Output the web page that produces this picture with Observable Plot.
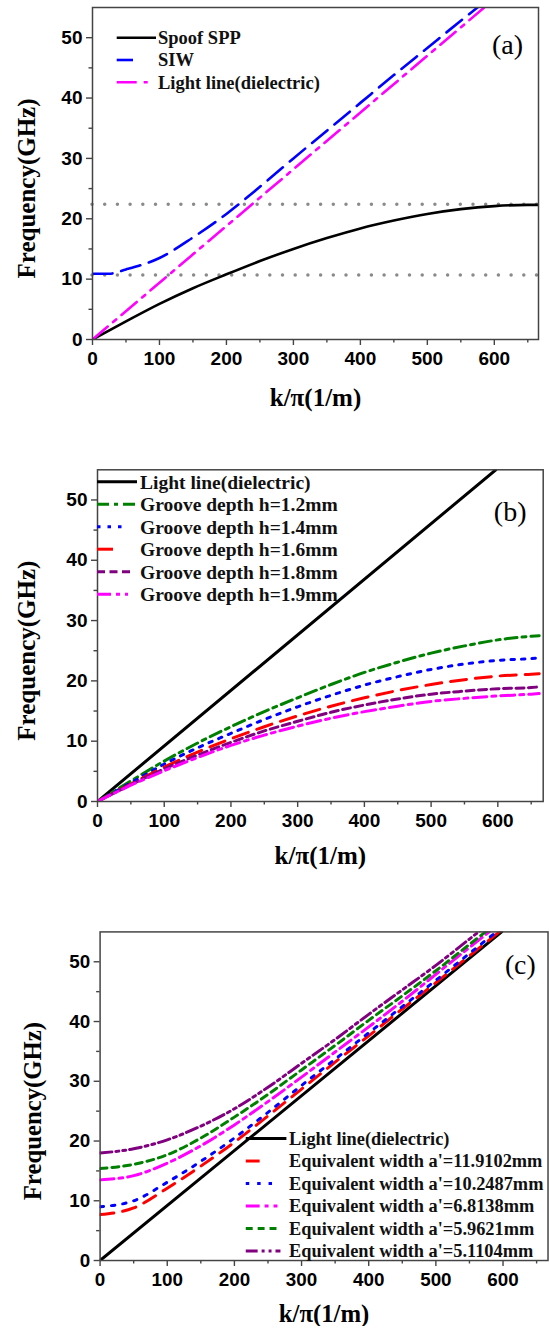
<!DOCTYPE html>
<html><head><meta charset="utf-8">
<script src="https://cdn.jsdelivr.net/npm/d3@7"></script>
<script src="https://cdn.jsdelivr.net/npm/@observablehq/plot@0.6"></script>
<style>
html,body{margin:0;padding:0;background:#fff;overflow:hidden;width:550px;}
#wrap svg{display:block;}
</style></head><body><div id="wrap"></div>
<script>
// ---------- shared axis ticks ----------
const xTicks = [0, 100, 200, 300, 400, 500, 600];
const xMinorTicks = [50, 150, 250, 350, 450, 550, 650];
const yTicks = [0, 10, 20, 30, 40, 50];
const yMinorTicks = [5, 15, 25, 35, 45];
const xTitle = "k/π(1/m)";
const yTitle = "Frequency(GHz)";

// ---------- panel (a) ----------
const aK = [0, 50, 100, 150, 200, 250, 300, 350, 400, 450, 500, 550, 600, 650, 667];
const aSpoofSPP = [0, 3.0, 5.9, 8.5, 10.8, 13.0, 15.0, 16.8, 18.4, 19.7, 20.8, 21.6, 22.1, 22.3, 22.3];
const aSiwK = [0, 25, 50, 100, 150, 200, 250, 300, 350, 400, 450, 500, 550, 585];
const aSiw = [10.9, 10.9, 11.6, 13.5, 16.9, 20.8, 25.3, 30.0, 34.6, 39.2, 43.8, 48.3, 52.8, 55.9];
const aLightK = [0, 585];
const aLight = [0, 55];
const aBandEdges = [22.4, 10.7];
const aLabels = ["Spoof SPP", "SIW", "Light line(dielectric)"];

// ---------- panel (b) ----------
const bK = [0, 50, 100, 150, 200, 250, 300, 350, 400, 450, 500, 550, 600, 650, 662];
const bLightK = [0, 597];
const bLight = [0, 55];
const bH12 = [0, 3.4, 6.7, 9.7, 12.4, 14.9, 17.2, 19.4, 21.4, 23.1, 24.6, 25.8, 26.8, 27.4, 27.5];
const bH14 = [0, 3.1, 6.2, 8.9, 11.3, 13.6, 15.7, 17.6, 19.3, 20.7, 21.9, 22.8, 23.4, 23.7, 23.8];
const bH16 = [0, 2.9, 5.7, 8.2, 10.4, 12.4, 14.2, 15.8, 17.2, 18.4, 19.4, 20.2, 20.8, 21.1, 21.2];
const bH18 = [0, 2.8, 5.4, 7.7, 9.8, 11.7, 13.3, 14.8, 16.0, 17.0, 17.8, 18.3, 18.7, 18.9, 19.0];
const bH19 = [0, 2.7, 5.1, 7.3, 9.3, 11.0, 12.5, 13.8, 14.9, 15.8, 16.6, 17.1, 17.5, 17.8, 17.9];
const bLabels = ["Light line(dielectric)", "Groove depth h=1.2mm", "Groove depth h=1.4mm",
  "Groove depth h=1.6mm", "Groove depth h=1.8mm", "Groove depth h=1.9mm"];

// ---------- panel (c) ----------
const cK = [0, 50, 100, 150, 200, 250, 300, 350, 400, 450, 500, 550, 600];
const cLightK = [0, 598];
const cLight = [0, 55];
const cW119102 = [7.7, 8.8, 12.1, 15.8, 19.8, 24.2, 28.7, 33.2, 37.6, 42.1, 46.5, 51.0, 55.5];
const cW102487 = [9.0, 10.0, 13.1, 16.6, 20.5, 24.8, 29.3, 33.7, 38.1, 42.5, 46.9, 51.4, 55.9];
const cW68138 = [13.5, 14.2, 16.3, 19.2, 22.7, 26.6, 30.7, 34.9, 39.1, 43.4, 47.9, 52.4, 56.8];
const cW59621 = [15.4, 16.1, 17.7, 20.5, 24.0, 27.8, 31.9, 36.0, 40.2, 44.3, 48.5, 52.9, 57.3];
const cW51104 = [18.0, 18.7, 20.2, 22.5, 25.4, 29.0, 33.0, 37.0, 41.2, 45.3, 49.4, 53.8, 58.2];
const cLabels = ["Light line(dielectric)", "Equivalent width a'=11.9102mm", "Equivalent width a'=10.2487mm",
  "Equivalent width a'=6.8138mm", "Equivalent width a'=5.9621mm", "Equivalent width a'=5.1104mm"];

const rows = (k, f) => k.map((x, i) => ({k: x, f: f[i]}));

const SANS = "'Liberation Sans', Arial, sans-serif";
const SERIF = "'Liberation Serif', 'Times New Roman', serif";

function panel(cfg) {
  const marks = [
    ...(cfg.pre || []),
    ...cfg.series.map(s => Plot.line(rows(s.k, s.f), {
      x: "k", y: "f", stroke: s.stroke, strokeWidth: s.width,
      strokeDasharray: s.dash, curve: "monotone-x", clip: true
    })),
    Plot.frame({stroke: "#444", strokeWidth: 1.5}),
    Plot.axisX(xTicks, {tickSize: 6, tickPadding: 6, strokeWidth: 1.4, stroke: "#444", fill: "#000", label: null, tickFormat: d => String(d)}),
    Plot.axisX(xMinorTicks, {tickSize: 3.5, strokeWidth: 1.4, stroke: "#444", label: null, tickFormat: () => ""}),
    Plot.axisY(yTicks, {tickSize: 6, tickPadding: 4, strokeWidth: 1.4, stroke: "#444", fill: "#000", label: null, tickFormat: d => String(d)}),
    Plot.axisY(yMinorTicks, {tickSize: 3.5, strokeWidth: 1.4, stroke: "#444", label: null, tickFormat: () => ""}),
    Plot.text([yTitle], {text: d => d, frameAnchor: "left", dx: cfg.yTitleX - cfg.ml, dy: 15, rotate: -90,
      textAnchor: "middle", lineAnchor: "middle", fontSize: 25, fontWeight: "bold", fontFamily: SERIF, fill: "#000"}),
    Plot.text([xTitle], {text: d => d, frameAnchor: "bottom", dy: cfg.xTitleDy,
      textAnchor: "middle", lineAnchor: "middle", fontSize: 25, fontWeight: "bold", fontFamily: SERIF, fill: "#000"}),
    Plot.text([cfg.tag], {text: d => d, frameAnchor: "top-right", dx: cfg.tagDx, dy: cfg.tagDy,
      textAnchor: "middle", lineAnchor: "middle", fontSize: 28, fontWeight: "normal", fontFamily: SERIF, fill: "#000"})
  ];
  const svg = Plot.plot({
    width: cfg.width, height: cfg.height,
    marginTop: cfg.mt, marginBottom: cfg.mb, marginLeft: cfg.ml, marginRight: cfg.mr,
    x: {domain: [0, cfg.xmax], axis: null},
    y: {domain: [0, 55], axis: null},
    style: {background: "white", overflow: "visible", color: "#000"},
    marks
  });
  // make numeric tick labels bold sans, as in the reference
  d3.select(svg).selectAll("text")
    .filter(function () { return /^\d+$/.test(this.textContent.trim()); })
    .style("font-family", SANS).style("font-weight", "bold").style("font-size", "19px").style("fill", "#000");
  // legend
  const g = d3.select(svg).append("g").attr("text-anchor", "start");
  cfg.series.forEach((s, i) => {
    const y = cfg.leg.y0 + i * cfg.leg.step;
    g.append("line").attr("x1", cfg.leg.x0).attr("x2", s.lx1).attr("y1", y).attr("y2", y)
      .attr("stroke", s.stroke).attr("stroke-width", s.width).attr("stroke-dasharray", s.dash || null);
    g.append("text").attr("x", cfg.leg.tx).attr("y", y).attr("dy", "0.35em")
      .attr("text-anchor", "start")
      .style("font-family", SERIF).style("font-weight", "bold").style("font-size", cfg.leg.fs + "px")
      .attr("fill", "#111").text(s.label);
  });
  return svg;
}

const wrap = document.getElementById("wrap");

// (a)
wrap.appendChild(panel({
  width: 550, height: 440, mt: 7, mb: 101, ml: 92, mr: 12, xmax: 666,
  yTitleX: 26, xTitleDy: 58, tag: "(a)", tagDx: -31, tagDy: 38,
  pre: [Plot.ruleY(aBandEdges, {stroke: "#8a8a8a", strokeWidth: 3.5, strokeDasharray: "0,12.7", strokeLinecap: "round"})],
  series: [
    {k: aK, f: aSpoofSPP, stroke: "#000", width: 2.6, dash: null, label: aLabels[0], lx1: 156},
    {k: aSiwK, f: aSiw, stroke: "#0000ff", width: 2.6, dash: "20,9", label: aLabels[1], lx1: 133},
    {k: aLightK, f: aLight, stroke: "#ff00ff", width: 2.6, dash: "20,7,4,7", label: aLabels[2], lx1: 149}
  ],
  leg: {x0: 116.7, tx: 158, y0: 37.7, step: 22.3, fs: 18.5}
}));

// (b)
wrap.appendChild(panel({
  width: 550, height: 460, mt: 29.3, mb: 99, ml: 97, mr: 7.3, xmax: 668,
  yTitleX: 26, xTitleDy: 54, tag: "(b)", tagDx: -33, tagDy: 42,
  series: [
    {k: bLightK, f: bLight, stroke: "#000", width: 3, dash: null, label: bLabels[0], lx1: 137},
    {k: bK, f: bH12, stroke: "#008000", width: 3, dash: "12,5,4,5", label: bLabels[1], lx1: 135},
    {k: bK, f: bH14, stroke: "#0000ff", width: 3, dash: "3.5,7", label: bLabels[2], lx1: 122},
    {k: bK, f: bH16, stroke: "#ff0000", width: 3, dash: "16,9", label: bLabels[3], lx1: 113},
    {k: bK, f: bH18, stroke: "#800080", width: 3, dash: "8,4.5", label: bLabels[4], lx1: 133},
    {k: bK, f: bH19, stroke: "#ff00ff", width: 3, dash: "14,5,4,5", label: bLabels[5], lx1: 128}
  ],
  leg: {x0: 97, tx: 140, y0: 41.7, step: 22.5, fs: 19.5}
}));

// (c)
wrap.appendChild(panel({
  width: 555, height: 430, mt: 31.7, mb: 66.7, ml: 100.5, mr: 2.5, xmax: 667,
  yTitleX: 33, xTitleDy: 54, tag: "(c)", tagDx: -28, tagDy: 34,
  series: [
    {k: cLightK, f: cLight, stroke: "#000", width: 3, dash: null, label: cLabels[0], lx1: 289},
    {k: cK, f: cW119102, stroke: "#ff0000", width: 3, dash: "14,9", label: cLabels[1], lx1: 262},
    {k: cK, f: cW102487, stroke: "#0000ff", width: 3, dash: "3.5,8", label: cLabels[2], lx1: 276},
    {k: cK, f: cW68138, stroke: "#ff00ff", width: 3, dash: "14,5,4,5", label: cLabels[3], lx1: 280},
    {k: cK, f: cW59621, stroke: "#008000", width: 3, dash: "7,5", label: cLabels[4], lx1: 283},
    {k: cK, f: cW51104, stroke: "#800080", width: 3, dash: "12,4,3,4,3,4", label: cLabels[5], lx1: 283}
  ],
  leg: {x0: 248, tx: 291.7, y0: 240.7, step: 22.7, fs: 18.5}
}));
</script></body></html>
